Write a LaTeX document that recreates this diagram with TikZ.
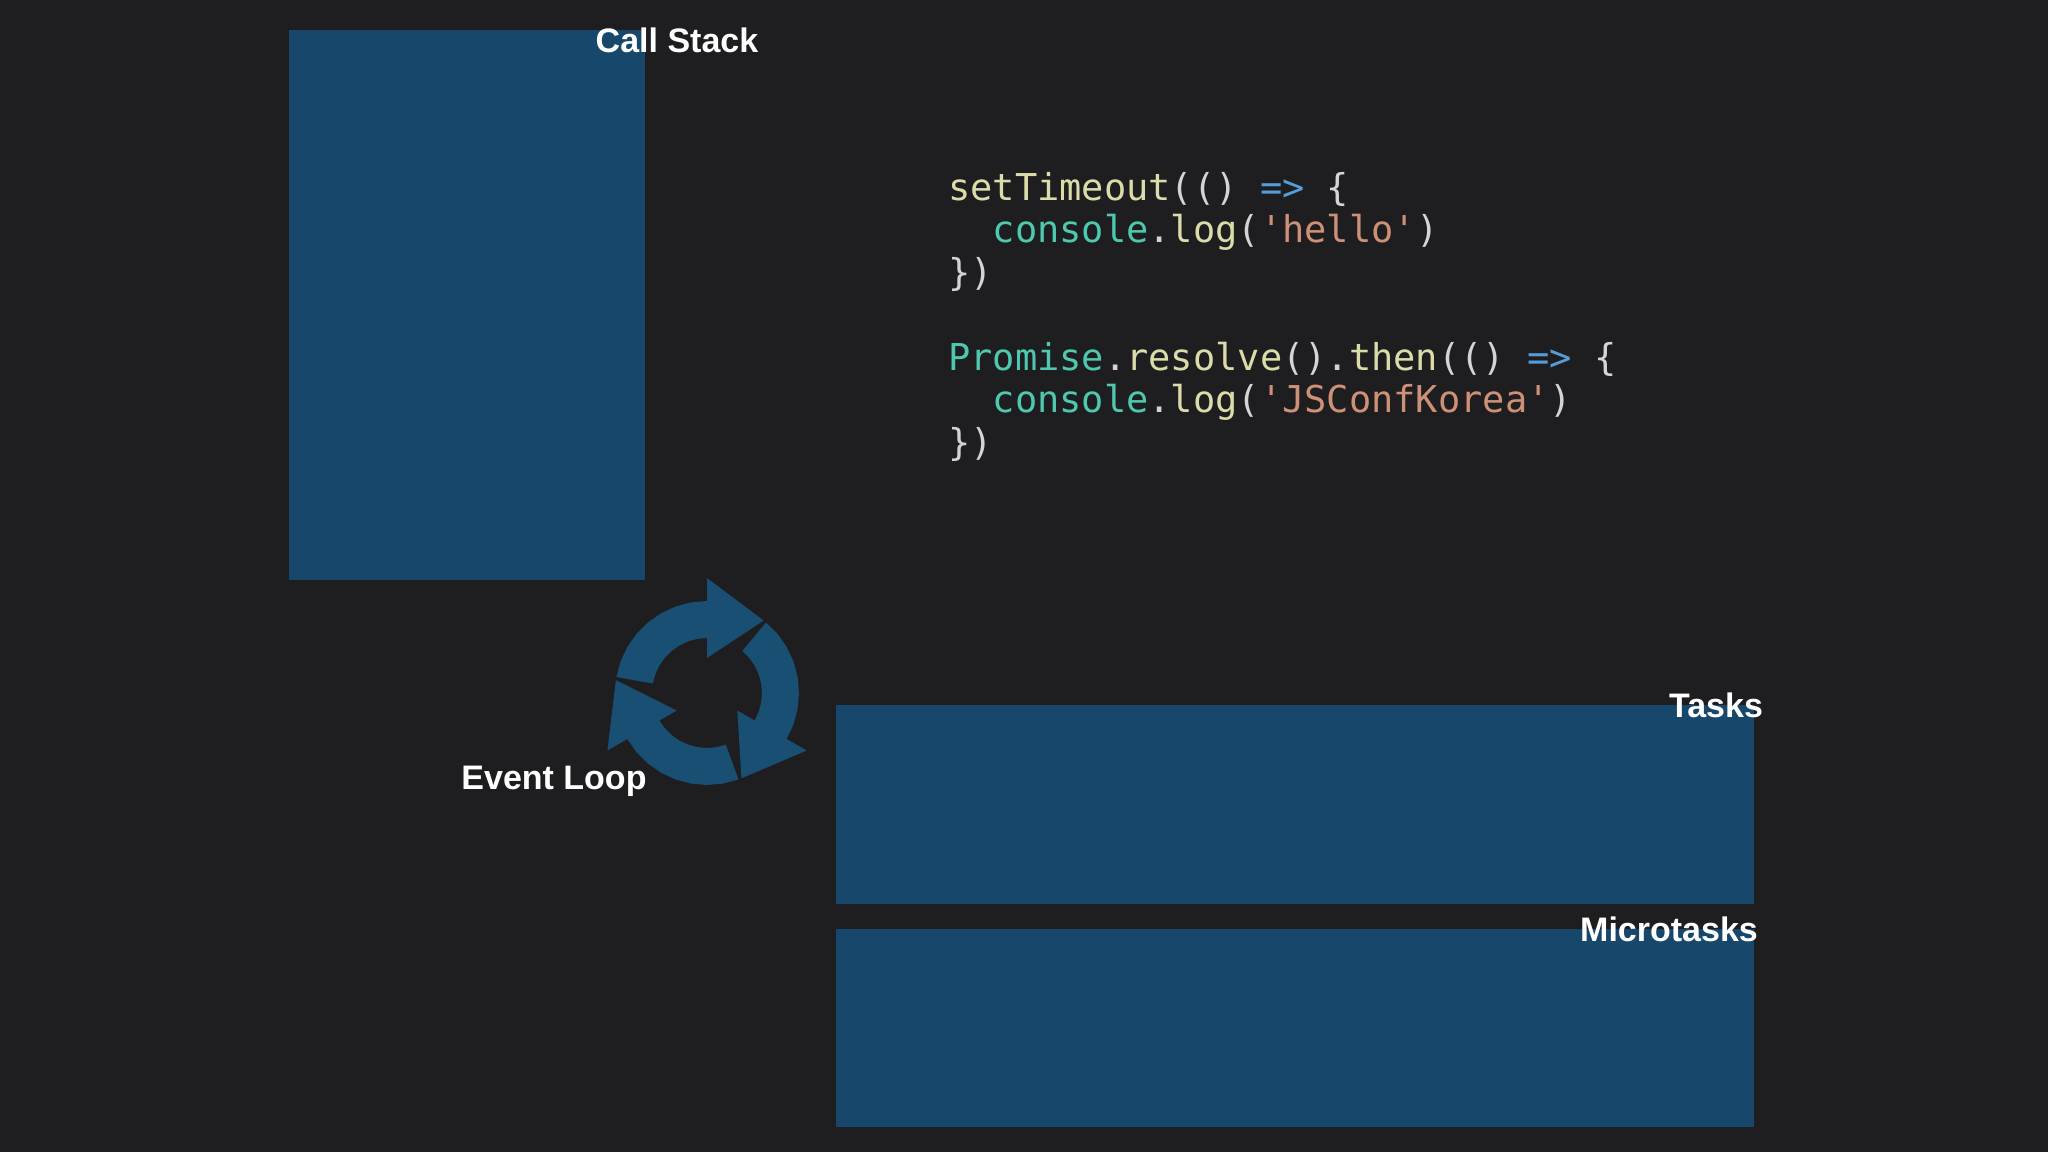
\documentclass[tikz,border=0pt]{standalone}
\usepackage{fontspec}
\setmainfont{Liberation Sans}
\newfontfamily\codefont{DejaVu Sans Mono}
\definecolor{bg}{HTML}{1E1E20}
\definecolor{boxc}{HTML}{17476A}
\definecolor{iconc}{HTML}{1A4F74}
\definecolor{cy}{HTML}{DCDCAA}
\definecolor{ct}{HTML}{4EC9B0}
\definecolor{cw}{HTML}{D4D4D4}
\definecolor{cb}{HTML}{569CD6}
\definecolor{cs}{HTML}{CE9178}
\tikzset{
  panel/.style={fill=boxc, draw=none},
  lbl/.style={text=white, font=\fontsize{34}{40}\selectfont\bfseries, inner sep=0pt},
  code/.style={anchor=base west, inner sep=0pt, font=\codefont\fontsize{37}{42}\selectfont, text=cw},
}
\newcommand{\loopArrow}[1]{%
  \fill[iconc] ({707+92*cos(170+#1)},{693-92*sin(170+#1)})
    \foreach \a in {160,150,...,90}{ -- ({707+92*cos(\a+#1)},{693-92*sin(\a+#1)}) }
    -- ({707+115*cos(90+#1)},{693-115*sin(90+#1)})
    -- ({707+92*cos(52+#1)},{693-92*sin(52+#1)})
    -- ({707+35*cos(90+#1)},{693-35*sin(90+#1)})
    -- ({707+55*cos(90+#1)},{693-55*sin(90+#1)})
    \foreach \a in {100,110,...,170}{ -- ({707+55*cos(\a+#1)},{693-55*sin(\a+#1)}) }
    -- cycle;}
\begin{document}
\begin{tikzpicture}[x=1pt,y=-1pt]
\fill[bg] (0,0) rectangle (2048,1152);
\useasboundingbox (0,0) rectangle (2048,1152);
\path[panel] (289,30) rectangle (645,580);
\path[panel] (836,705) rectangle (1754,904);
\path[panel] (836,929) rectangle (1754,1127);
\node[lbl] (cs) at (677,40) {Call Stack};
\node[lbl] (tk) at (1716,705) {Tasks};
\node[lbl] (mt) at (1669,929) {Microtasks};
\node[lbl] (el) at (554,781) {Event Loop};
\loopArrow{0}
\loopArrow{-120}
\loopArrow{-240}
\node[code] (l1) at (948,200) {\textcolor{cy}{setTimeout}(() \textcolor{cb}{=>} \{};
\node[code] (l2) at (948,242) {~~\textcolor{ct}{console}.\textcolor{cy}{log}(\textcolor{cs}{'hello'})};
\node[code] (l3) at (948,285) {\})};
\node[code] (l4) at (948,370) {\textcolor{ct}{Promise}.\textcolor{cy}{resolve}().\textcolor{cy}{then}(() \textcolor{cb}{=>} \{};
\node[code] (l5) at (948,412) {~~\textcolor{ct}{console}.\textcolor{cy}{log}(\textcolor{cs}{'JSConfKorea'})};
\node[code] (l6) at (948,455) {\})};
\end{tikzpicture}
\end{document}
